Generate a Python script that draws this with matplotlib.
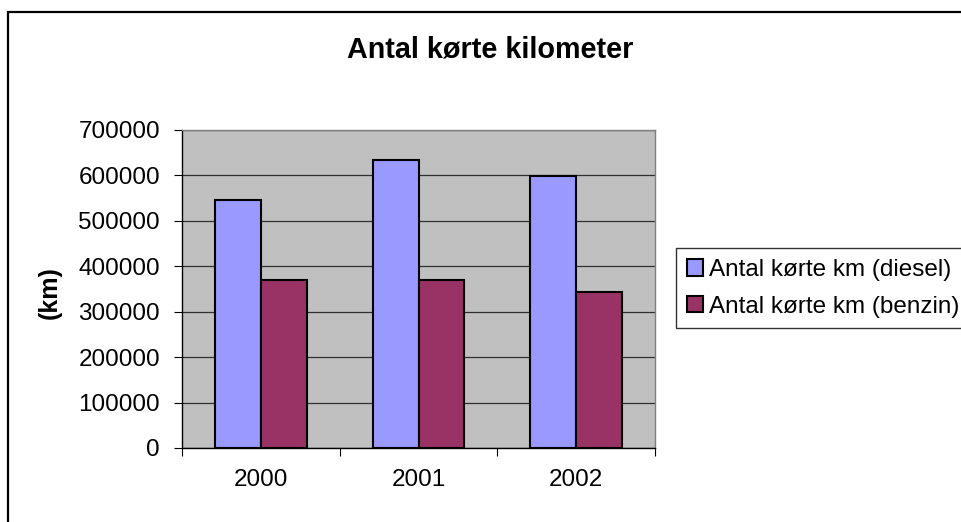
import numpy as np
import matplotlib
matplotlib.use("Agg")
import matplotlib.pyplot as plt
from matplotlib.patches import Rectangle
from matplotlib.ticker import FixedLocator

plt.rcParams['font.family'] = ['Liberation Sans', 'DejaVu Sans']

# data
years = ['2000', '2001', '2002']
diesel = [546000, 634000, 599000]
benzin = [370000, 370000, 344000]
series_names = ['Antal kørte km (diesel)', 'Antal kørte km (benzin)']
yticks = [0, 100000, 200000, 300000, 400000, 500000, 600000, 700000]

W, H = 961, 522
fig = plt.figure(figsize=(W / 100, H / 100), dpi=100)
fig.patch.set_facecolor('white')

# outer chart border (runs off the right and bottom edges)
fig.add_artist(Rectangle((8 / W, -0.1), 1.2, 1 - 11.5 / H + 0.1,
                         transform=fig.transFigure, fill=False,
                         edgecolor='black', linewidth=1.6))

ax = fig.add_axes([182 / W, 1 - 448 / H, 473 / W, 318 / H])
ax.set_facecolor('#C0C0C0')

x = np.arange(len(years))
w = 0.29
ax.bar(x - w / 2, diesel, w, color='#9999FF', edgecolor='black', linewidth=1.5,
       label=series_names[0], zorder=3)
ax.bar(x + w / 2, benzin, w, color='#993366', edgecolor='black', linewidth=1.5,
       label=series_names[1], zorder=3)

ax.set_xlim(-0.5, len(years) - 0.5)
ax.set_ylim(0, 700000)
ax.set_yticks(yticks)
ax.set_yticklabels([str(v) for v in yticks])
ax.yaxis.grid(True, color='#303030', linewidth=0.9, zorder=1)
ax.set_axisbelow(True)

ax.set_xticks(x)
ax.set_xticklabels(years)
ax.xaxis.set_minor_locator(FixedLocator(np.arange(-0.5, len(years), 1.0)))
ax.tick_params(axis='x', which='major', length=0, pad=15, labelsize=17.5)
ax.tick_params(axis='x', which='minor', length=5.8, width=0.8, direction='out')
ax.tick_params(axis='y', length=5.8, width=0.8, direction='out', pad=10,
               labelsize=17.5)

for side in ['top', 'right']:
    ax.spines[side].set_color('#808080')
    ax.spines[side].set_linewidth(1.0)
for side in ['left', 'bottom']:
    ax.spines[side].set_color('black')
    ax.spines[side].set_linewidth(1.0)

ax.set_ylabel('(km)', fontsize=18, fontweight='bold')
ax.yaxis.set_label_coords(-0.254, 0.49)

fig.text(490 / W, 1 - 57 / H, 'Antal kørte kilometer', ha='center',
         va='baseline', fontsize=20.7, fontweight='bold')

leg = fig.legend(loc='upper left', bbox_to_anchor=(676 / W, 1 - 248 / H),
                 fontsize=17.5, frameon=True, fancybox=False,
                 handlelength=0.66, handleheight=0.66, handletextpad=0.25,
                 borderpad=0.45, labelspacing=0.6, borderaxespad=0)
leg.get_frame().set_edgecolor('black')
leg.get_frame().set_linewidth(1.0)
for h in leg.legend_handles:
    h.set_linewidth(1.5)

fig.savefig('out.png', dpi=100)
